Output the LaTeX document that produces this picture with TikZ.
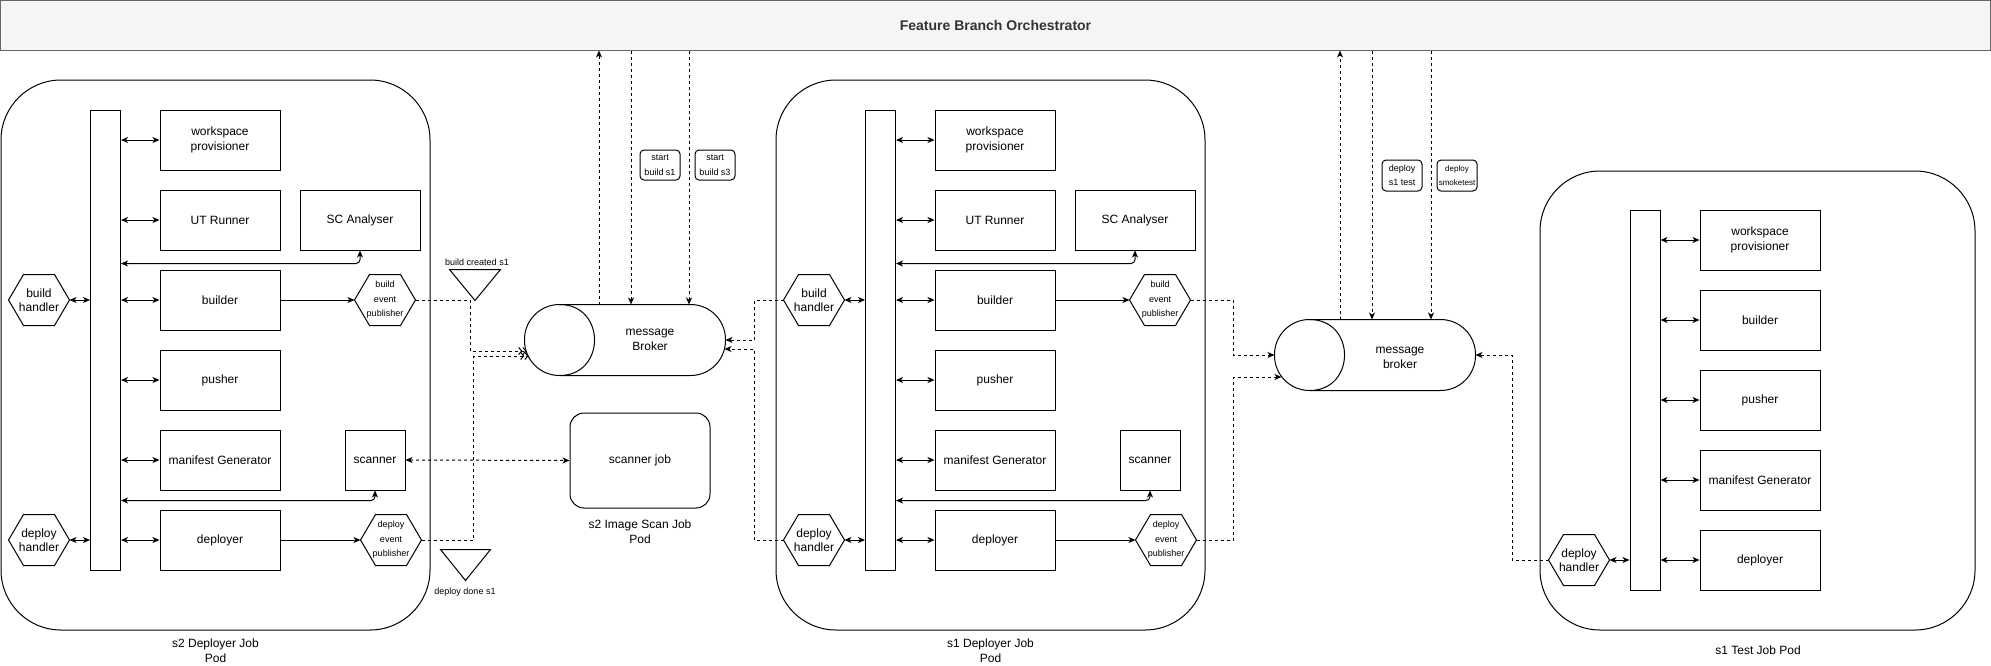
\documentclass[tikz,border=0pt]{standalone}
\usepackage{fontspec}
\setmainfont{Liberation Sans}
\usetikzlibrary{arrows.meta,calc}
\definecolor{ttlfill}{HTML}{F5F5F5}
\definecolor{ttlline}{HTML}{666666}
\definecolor{ttltext}{HTML}{333333}
\newcommand{\ftA}{\fontsize{12}{14.5}\selectfont}
\newcommand{\ftB}{\fontsize{9}{14.5}\selectfont}
\newcommand{\ftC}{\fontsize{8}{14.5}\selectfont}
\newcommand{\ftT}{\fontsize{14}{17}\selectfont\bfseries}
\newcommand{\hexat}[1]{\draw (#1.west) -- ([xshift=15pt]#1.north west) -- ([xshift=-15pt]#1.north east) -- (#1.east) -- ([xshift=-15pt]#1.south east) -- ([xshift=15pt]#1.south west) -- cycle;}
\newcommand{\triat}[1]{\draw (#1.north west) -- (#1.north east) -- (#1.south) -- cycle;}
\newcommand{\cylat}[1]{\draw[rounded corners=35pt] (#1.north west) rectangle (#1.south east);
 \draw ([xshift=35pt]#1.north west) .. controls ([xshift=81.7pt]#1.north west) and ([xshift=81.7pt]#1.south west) .. ([xshift=35pt]#1.south west);}
\begin{document}
\begin{tikzpicture}[x=1pt,y=-1pt, line width=1pt, >={Stealth[length=7pt,width=6pt,inset=2pt]},
 cbox/.style={draw, minimum width=120pt, minimum height=60pt, inner sep=0pt, align=center, font=\ftA},
 barn/.style={draw, minimum width=30pt, inner sep=0pt},
 hexn/.style={minimum width=60pt, minimum height=50pt, inner sep=0pt, align=center},
 trin/.style={minimum width=50pt, minimum height=30pt, inner sep=0pt},
 podbox/.style={draw, rounded corners=60pt, inner sep=0pt},
 lbl/.style={draw, rounded corners=4pt, minimum width=40pt, minimum height=30pt, inner sep=0pt, align=center, font=\ftB},
 txt/.style={align=center, font=\ftA, inner sep=0pt},
 dl/.style={dash pattern=on 3pt off 3pt},
 openar/.style={-{Straight Barb[length=3pt,width=7pt] Straight Barb[length=3pt,width=7pt]}}
]
\useasboundingbox (0,0) rectangle (1991,665);

% title
\node[draw=ttlline, fill=ttlfill, minimum width=1990pt, minimum height=49.5pt, inner sep=0pt, font=\ftT, text=ttltext] (title) at (995.5,25.25) {Feature Branch Orchestrator};

% deployer pods
\foreach \p/\ox/\pn in {1/0/s2, 2/775/s1}{
\begin{scope}[xshift=\ox pt]
\node[podbox, minimum width=429pt, minimum height=550pt] (pod\p) at (215.5,355) {};
\node[txt] (podl\p) at (215.5,650.5) {\pn{} Deployer Job\\Pod};
\node[barn, minimum height=460pt] (bar\p) at (105.5,340) {};
\node[cbox] (wp\p) at (220,140) {workspace\\provisioner};
\node[cbox] (ut\p) at (220,220) {UT Runner};
\node[cbox] (sca\p) at (360,220) {SC Analyser};
\node[cbox] (bld\p) at (220,300) {builder};
\node[cbox] (push\p) at (220,380) {pusher};
\node[cbox] (mg\p) at (220,460) {manifest Generator};
\node[cbox, minimum width=60pt] (scn\p) at (375,460) {scanner};
\node[cbox] (dpl\p) at (220,540) {deployer};
\node[hexn, font=\ftA] (bh\p) at (39,300) {build\\handler}; \hexat{bh\p}
\node[hexn, font=\ftA] (dh\p) at (39,540) {deploy\\handler}; \hexat{dh\p}
\node[hexn, font=\ftB] (bep\p) at (385,300) {build\\event\\publisher}; \hexat{bep\p}
\node[hexn, font=\ftB] (dep\p) at (391,540) {deploy\\event\\publisher}; \hexat{dep\p}
\foreach \bx in {wp,ut,bld,push,mg,dpl}{\draw[<->] (bar\p.east |- \bx\p.west) -- (\bx\p.west);}
\draw[<->] (bh\p.east) -- (bh\p.east -| bar\p.west);
\draw[<->] (dh\p.east) -- (dh\p.east -| bar\p.west);
\draw[->] (bld\p.east) -- (bep\p.west);
\draw[->] (dpl\p.east) -- (dep\p.west);
\coordinate (k\p) at ([yshift=-13pt]sca\p.south);
\draw[<->, rounded corners=4pt] (k\p -| bar\p.east) -| (sca\p.south);
\coordinate (m\p) at ([yshift=-10pt]scn\p.south);
\draw[<->, rounded corners=4pt] (m\p -| bar\p.east) -| (scn\p.south);
\end{scope}}

% test pod
\node[podbox, minimum width=435pt, minimum height=459pt] (pod3) at (1757.5,400.5) {};
\node[txt] (podl3) at (1758,650) {s1 Test Job Pod};
\node[barn, minimum height=380pt] (bar3) at (1645,400) {};
\node[cbox] (wp3) at (1760,240) {workspace\\provisioner};
\node[cbox] (bld3) at (1760,320) {builder};
\node[cbox] (push3) at (1760,400) {pusher};
\node[cbox] (mg3) at (1760,480) {manifest Generator};
\node[cbox] (dpl3) at (1760,560) {deployer};
\node[hexn, font=\ftA] (dh3) at (1579,560) {deploy\\handler}; \hexat{dh3}
\foreach \bx in {wp,bld,push,mg,dpl}{\draw[<->] (bar3.east |- \bx3.west) -- (\bx3.west);}
\draw[<->] (dh3.east) -- (dh3.east -| bar3.west);

% message brokers
\node[minimum width=200pt, minimum height=70pt, inner sep=0pt] (mb1) at (625,340) {};
\cylat{mb1}
\node[txt] (mb1t) at (650,340) {message\\Broker};

\node[minimum width=200pt, minimum height=70pt, inner sep=0pt] (mb2) at (1375,355) {};
\cylat{mb2}
\node[txt] (mb2t) at (1400,358) {message\\broker};

% scanner job
\node[draw, rounded corners=14pt, minimum width=140pt, minimum height=95pt, inner sep=0pt, font=\ftA] (sj) at (640,460.5) {scanner job};
\node[txt] (sjl) at (640,531.5) {s2 Image Scan Job\\Pod};

% triangles
\node[trin] (t1) at (475,285) {}; \triat{t1}
\node[txt, font=\ftB] (t1l) at (477,262) {build created s1};
\node[trin, minimum width=49pt] (t2) at (465.5,565) {}; \triat{t2}
\node[txt, font=\ftB] (t2l) at (465,592) {deploy done s1};

% event labels
\node[lbl] (sb1) at (660,165) {start\\build s1};
\node[lbl] (sb3) at (715,165) {start\\build s3};
\node[lbl, minimum height=31pt] (ds1) at (1402,175.5) {deploy\\s1 test};
\node[lbl, minimum height=31pt, font=\ftC] (dsm) at (1457,175.5) {deploy\\smoketest};

% orchestrator links
\coordinate (a1) at ([xshift=-26pt]mb1.north);
\coordinate (a2) at ([xshift=6pt]mb1.north);
\coordinate (a3) at ([xshift=64pt]mb1.north);
\coordinate (a4) at ([xshift=-35pt]mb2.north);
\coordinate (a5) at ([xshift=-3pt]mb2.north);
\coordinate (a6) at ([xshift=56pt]mb2.north);
\draw[dl,->] (a1) -- (a1 |- title.south);
\draw[dl,->] (a2 |- title.south) -- (a2);
\draw[dl,->] (a3 |- title.south) -- (a3);
\draw[dl,->] (a4) -- (a4 |- title.south);
\draw[dl,->] (a5 |- title.south) -- (a5);
\draw[dl,->] (a6 |- title.south) -- (a6);

% broker links
\coordinate (c1) at (470,0);
\coordinate (c2) at (473,0);
\coordinate (c3) at (754,0);
\coordinate (c4) at (1233,0);
\coordinate (c5) at (1512,0);
\coordinate (mb1in1) at ([xshift=2pt,yshift=-11pt]mb1.west);
\coordinate (mb1in2) at ([xshift=4pt,yshift=-16pt]mb1.west);
\coordinate (mb1in3) at ([xshift=-1pt,yshift=-9pt]mb1.east);
\coordinate (mb2in2) at ([xshift=7pt,yshift=-22pt]mb2.west);
\draw[dl,openar] (bep1.east) -- (bep1.east -| c1) |- (mb1in1);
\draw[dl,openar] (dep1.east) -- (dep1.east -| c2) |- (mb1in2);
\draw[dl,->] (bh2.west) -- (bh2.west -| c3) |- (mb1.east);
\draw[dl,->] (dh2.west) -- (dh2.west -| c3) |- (mb1in3);
\draw[dl,->] (bep2.east) -- (bep2.east -| c4) |- (mb2.west);
\draw[dl,->] (dep2.east) -- (dep2.east -| c4) |- (mb2in2);
\draw[dl,->] (dh3.west) -- (dh3.west -| c5) |- (mb2.east);
\draw[dl,<->] (scn1.east) -- (sj.west);
\end{tikzpicture}
\end{document}
